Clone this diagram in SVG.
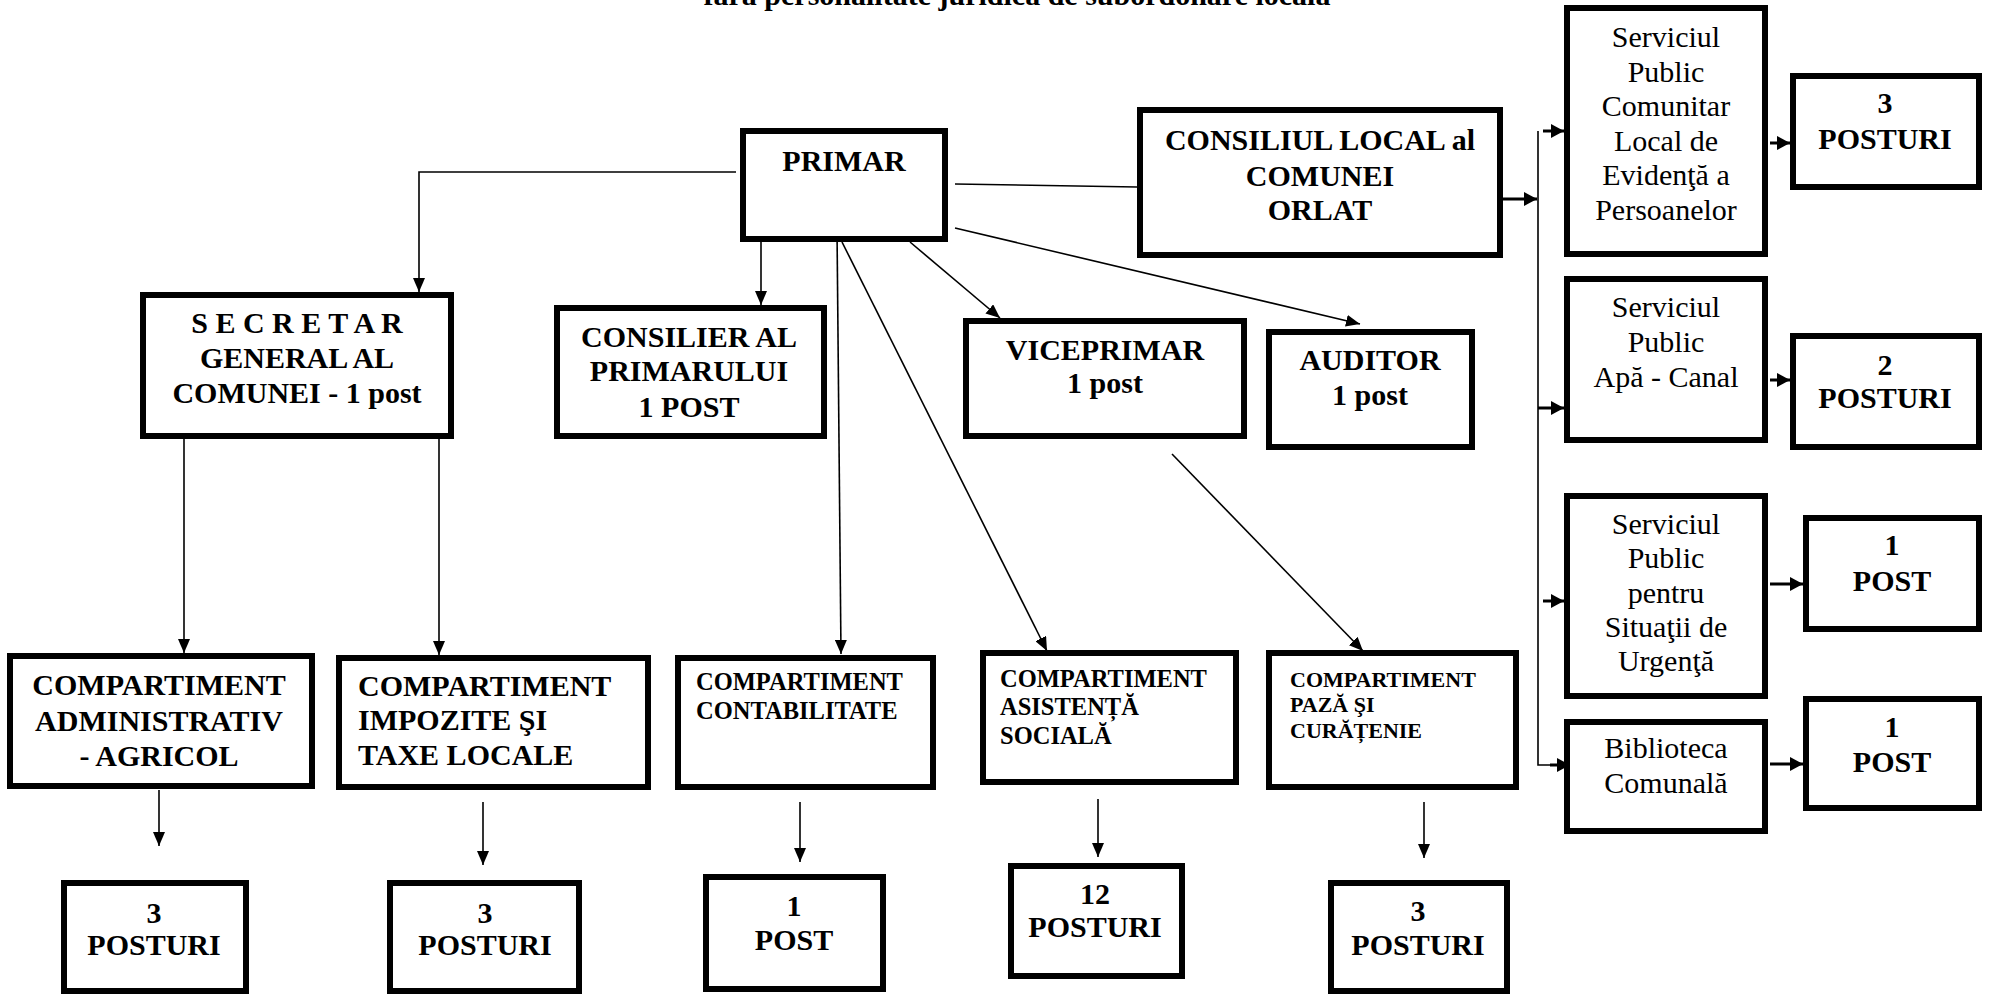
<svg xmlns="http://www.w3.org/2000/svg" width="1993" height="997" viewBox="0 0 1993 997">
<style>
.b{fill:#fff;stroke:#000;stroke-width:6}
text{font-family:"Liberation Serif","Times New Roman",serif;fill:#000}
.t{font-size:30px;font-weight:bold;text-anchor:middle}
.tl{font-size:30px;font-weight:bold}
.r{font-size:30px;text-anchor:middle}
.s{font-size:24.5px;font-weight:bold}
.s2{font-size:22px;font-weight:bold}
.c{fill:none;stroke:#000;stroke-width:1.6}
.c2{fill:none;stroke:#000;stroke-width:3}
</style>
<defs>
<marker id="a" markerUnits="userSpaceOnUse" markerWidth="14" markerHeight="12" refX="14" refY="6" orient="auto"><path d="M0,0 L14,6 L0,12 z" fill="#000"/></marker>
<marker id="a2" markerUnits="userSpaceOnUse" markerWidth="13" markerHeight="14" refX="13" refY="7" orient="auto"><path d="M0,0 L13,7 L0,14 z" fill="#000"/></marker>
</defs>
<rect width="1993" height="997" fill="#fff"/>
<text class="t" x="1017" y="5">fără personalitate juridică de subordonare locală</text>

<g id="connectors">
<polyline class="c" points="736,172 419,172 419,292" marker-end="url(#a)"/>
<line class="c" x1="761" y1="242" x2="761" y2="305" marker-end="url(#a)"/>
<line class="c" x1="837" y1="229" x2="841" y2="654" marker-end="url(#a)"/>
<line class="c" x1="842" y1="242" x2="1047" y2="651" marker-end="url(#a)"/>
<line class="c" x1="910" y1="242" x2="1000" y2="318" marker-end="url(#a)"/>
<line class="c" x1="955" y1="228" x2="1360" y2="324" marker-end="url(#a)"/>
<line class="c" x1="955" y1="184" x2="1137" y2="187"/>
<line class="c" x1="184" y1="439" x2="184" y2="653" marker-end="url(#a)"/>
<line class="c" x1="439" y1="439" x2="439" y2="655" marker-end="url(#a)"/>
<line class="c" x1="1172" y1="454" x2="1363" y2="651" marker-end="url(#a)"/>
<line class="c" x1="159" y1="790" x2="159" y2="846" marker-end="url(#a)"/>
<line class="c" x1="483" y1="802" x2="483" y2="865" marker-end="url(#a)"/>
<line class="c" x1="800" y1="802" x2="800" y2="862" marker-end="url(#a)"/>
<line class="c" x1="1098" y1="799" x2="1098" y2="857" marker-end="url(#a)"/>
<line class="c" x1="1424" y1="802" x2="1424" y2="858" marker-end="url(#a)"/>
<line class="c2" x1="1503" y1="199" x2="1537" y2="199" marker-end="url(#a2)"/>
<polyline class="c" points="1538,131 1538,765 1560,765"/>
<line class="c2" x1="1543" y1="131" x2="1564" y2="131" marker-end="url(#a2)"/>
<line class="c2" x1="1538" y1="408" x2="1564" y2="408" marker-end="url(#a2)"/>
<line class="c2" x1="1543" y1="601" x2="1564" y2="601" marker-end="url(#a2)"/>
<line class="c2" x1="1550" y1="765" x2="1570" y2="765" marker-end="url(#a2)"/>
<line class="c2" x1="1770" y1="143" x2="1790" y2="143" marker-end="url(#a2)"/>
<line class="c2" x1="1770" y1="380" x2="1790" y2="380" marker-end="url(#a2)"/>
<line class="c2" x1="1770" y1="584" x2="1803" y2="584" marker-end="url(#a2)"/>
<line class="c2" x1="1770" y1="764" x2="1803" y2="764" marker-end="url(#a2)"/>
</g>

<g id="primar"><rect class="b" x="743" y="131" width="202" height="108"/><text class="t" x="844" y="171">PRIMAR</text></g>
<g id="consiliul"><rect class="b" x="1140" y="110" width="360" height="145"/><text class="t" x="1320" y="150">CONSILIUL LOCAL al</text><text class="t" x="1320" y="186">COMUNEI</text><text class="t" x="1320" y="220">ORLAT</text></g>
<g id="secretar"><rect class="b" x="143" y="295" width="308" height="141"/><text class="t" x="297" y="333">S E C R E T A R</text><text class="t" x="297" y="368">GENERAL AL</text><text class="t" x="297" y="403">COMUNEI - 1 post</text></g>
<g id="consilier"><rect class="b" x="557" y="308" width="267" height="128"/><text class="t" x="689" y="347">CONSILIER AL</text><text class="t" x="689" y="381">PRIMARULUI</text><text class="t" x="689" y="417">1 POST</text></g>
<g id="viceprimar"><rect class="b" x="966" y="321" width="278" height="115"/><text class="t" x="1105" y="360">VICEPRIMAR</text><text class="t" x="1105" y="393">1 post</text></g>
<g id="auditor"><rect class="b" x="1269" y="332" width="203" height="115"/><text class="t" x="1370" y="370">AUDITOR</text><text class="t" x="1370" y="405">1 post</text></g>

<g id="serv-evidenta"><rect class="b" x="1567" y="8" width="198" height="246"/><text class="r" x="1666" y="47">Serviciul</text><text class="r" x="1666" y="82">Public</text><text class="r" x="1666" y="116">Comunitar</text><text class="r" x="1666" y="151">Local de</text><text class="r" x="1666" y="185">Evidenţă a</text><text class="r" x="1666" y="220">Persoanelor</text></g>
<g id="post-evidenta"><rect class="b" x="1793" y="76" width="186" height="111"/><text class="t" x="1885" y="113">3</text><text class="t" x="1885" y="149">POSTURI</text></g>
<g id="serv-apa"><rect class="b" x="1567" y="279" width="198" height="161"/><text class="r" x="1666" y="317">Serviciul</text><text class="r" x="1666" y="352">Public</text><text class="r" x="1666" y="387">Apă - Canal</text></g>
<g id="post-apa"><rect class="b" x="1793" y="336" width="186" height="111"/><text class="t" x="1885" y="375">2</text><text class="t" x="1885" y="408">POSTURI</text></g>
<g id="serv-urgenta"><rect class="b" x="1567" y="496" width="198" height="200"/><text class="r" x="1666" y="534">Serviciul</text><text class="r" x="1666" y="568">Public</text><text class="r" x="1666" y="603">pentru</text><text class="r" x="1666" y="637">Situaţii de</text><text class="r" x="1666" y="671">Urgenţă</text></g>
<g id="post-urgenta"><rect class="b" x="1806" y="518" width="173" height="111"/><text class="t" x="1892" y="555">1</text><text class="t" x="1892" y="591">POST</text></g>
<g id="biblioteca"><rect class="b" x="1567" y="722" width="198" height="109"/><text class="r" x="1666" y="758">Biblioteca</text><text class="r" x="1666" y="793">Comunală</text></g>
<g id="post-biblioteca"><rect class="b" x="1806" y="699" width="173" height="109"/><text class="t" x="1892" y="737">1</text><text class="t" x="1892" y="772">POST</text></g>

<g id="comp-admin"><rect class="b" x="10" y="656" width="302" height="130"/><text class="t" x="159" y="695">COMPARTIMENT</text><text class="t" x="159" y="731">ADMINISTRATIV</text><text class="t" x="159" y="766">- AGRICOL</text></g>
<g id="comp-impozite"><rect class="b" x="339" y="658" width="309" height="129"/><text class="tl" x="358" y="696">COMPARTIMENT</text><text class="tl" x="358" y="730">IMPOZITE ŞI</text><text class="tl" x="358" y="765">TAXE LOCALE</text></g>
<g id="comp-contab"><rect class="b" x="678" y="658" width="255" height="129"/><text class="s" x="696" y="690">COMPARTIMENT</text><text class="s" x="696" y="719">CONTABILITATE</text></g>
<g id="comp-asistenta"><rect class="b" x="983" y="653" width="253" height="129"/><text class="s" x="1000" y="687">COMPARTIMENT</text><text class="s" x="1000" y="715">ASISTENȚĂ</text><text class="s" x="1000" y="744">SOCIALĂ</text></g>
<g id="comp-paza"><rect class="b" x="1269" y="653" width="247" height="134"/><text class="s2" x="1290" y="687">COMPARTIMENT</text><text class="s2" x="1290" y="712">PAZĂ ŞI</text><text class="s2" x="1290" y="738">CURĂȚENIE</text></g>

<g id="post-admin"><rect class="b" x="64" y="883" width="182" height="108"/><text class="t" x="154" y="923">3</text><text class="t" x="154" y="955">POSTURI</text></g>
<g id="post-impozite"><rect class="b" x="390" y="883" width="189" height="108"/><text class="t" x="485" y="923">3</text><text class="t" x="485" y="955">POSTURI</text></g>
<g id="post-contab"><rect class="b" x="706" y="877" width="177" height="112"/><text class="t" x="794" y="916">1</text><text class="t" x="794" y="950">POST</text></g>
<g id="post-asistenta"><rect class="b" x="1011" y="866" width="171" height="110"/><text class="t" x="1095" y="904">12</text><text class="t" x="1095" y="937">POSTURI</text></g>
<g id="post-paza"><rect class="b" x="1331" y="883" width="176" height="108"/><text class="t" x="1418" y="921">3</text><text class="t" x="1418" y="955">POSTURI</text></g>
</svg>
